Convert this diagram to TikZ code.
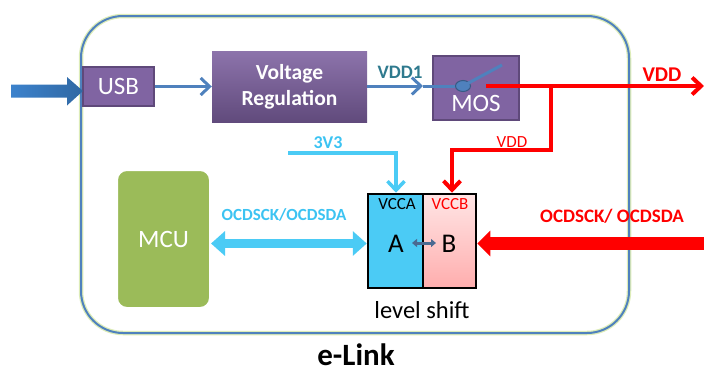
\documentclass[tikz,border=0pt]{standalone}
\usepackage{fontspec}
\setmainfont{Carlito}
\usetikzlibrary{arrows.meta,shapes.geometric}
\definecolor{purp}{HTML}{8064A2}
\definecolor{purpdark}{HTML}{5F497A}
\definecolor{steel}{HTML}{4F81BD}
\definecolor{inblue}{HTML}{3C82CC}
\definecolor{lblue}{HTML}{4BCBF5}
\definecolor{ltext}{HTML}{3CC3F2}
\definecolor{teal}{HTML}{2F7A8E}
\definecolor{mcugreen}{HTML}{9BBB59}
\definecolor{glow}{HTML}{DDECB8}
\definecolor{abarrow}{HTML}{4A6A92}
\tikzset{
  fs/.style={font=\fontsize{#1}{#1}\selectfont},
  purpbox/.style={draw=purpdark, line width=1.2pt, fill=purp, text=white, inner sep=0pt},
  steelline/.style={draw=steel, line width=3pt},
  steelarrow/.style={steelline, -{Straight Barb[length=9pt,width=17pt]}},
  redline/.style={draw=red, line width=4pt},
  redarrow/.style={redline, -{Straight Barb[length=9pt,width=17pt]}},
  bluethin/.style={draw=lblue, line width=3.5pt},
  bluethinarrow/.style={bluethin, -{Straight Barb[length=9pt,width=17pt]}},
  lsbox/.style={draw=black, line width=2.5pt, inner sep=0pt, minimum height=94pt},
}
\begin{document}
\begin{tikzpicture}[x=1pt,y=-1pt]
\useasboundingbox (0,0) rectangle (704,372);
\clip (0,0) rectangle (704,372);
% outer frame
\draw[glow, line width=4.5pt, rounded corners=42pt] (81,16) rectangle (629,333);
\draw[steel, line width=2pt, rounded corners=42pt] (81,16) rectangle (629,333);

% top row
\node[purpbox, minimum width=71pt, minimum height=39pt, fs=25] (usb) at (118.5,86.5) {USB};
\node[draw=none, top color=purp!90!white, bottom color=purpdark!95!purp, text=white, inner sep=0pt,
      minimum width=155pt, minimum height=71pt, align=center, font=\bfseries\fontsize{21.5}{26}\selectfont]
      (vr) at (289.5,86.5) {Voltage\\Regulation};
\node[purpbox, minimum width=86pt, minimum height=64pt] (mos) at (476,88) {};
\node[text=white, fs=25, inner sep=0pt] (mostxt) at (476,103) {MOS};

% input arrow
\shade[left color=inblue, right color=inblue!80!black]
  (11,84.5) -- (67,84.5) -- (67,77) -- (83,91) -- (67,105.5) -- (67,97.5) -- (11,97.5) -- cycle;

\draw[steelarrow] (usb.east) -- (vr.west);

% switch
\coordinate (vddmid) at (423,86);
\node[ellipse, draw=steel!70!black, fill=steel, line width=1pt, minimum width=15pt, minimum height=11pt, inner sep=0pt] (sw) at (463,86) {};
\coordinate (leverend) at (502,65);
\draw[steelline] (sw.center) -- (leverend);
\draw[steelarrow] (vr.east |- vddmid) -- (vddmid);
\draw[steelline] (vddmid) -- (sw.west);
\node[text=teal, font=\bfseries\fontsize{19}{19}\selectfont] (vdd1) at (400,72) {VDD1};

% red VDD
\coordinate (vddstart) at (486,86);
\coordinate (vddend) at (704,86);
\coordinate (branch) at (551,86);
\draw[redarrow] (vddstart) -- (vddend);
\node[text=red, font=\bfseries\fontsize{21}{21}\selectfont] (vddlbl) at (662,75) {VDD};

% level shifter
\node[lsbox, fill=lblue, minimum width=55pt] (lsa) at (395.5,241) {};
\node[lsbox, top color=red!10!white, bottom color=red!32!white, minimum width=53pt] (lsb) at (449.5,241) {};
\node[fs=17, inner sep=0pt] (vcca) at (397,204) {VCCA};
\node[fs=17, text=red, inner sep=0pt] (vccb) at (450,204) {VCCB};
\node[fs=27, inner sep=0pt] (atxt) at (396,244) {A};
\node[fs=27, inner sep=0pt] (btxt) at (449,244) {B};
\coordinate (abl) at (412,243);
\coordinate (abr) at (436,243);
\draw[abarrow, line width=3pt, {Triangle[length=5pt,width=8pt]}-{Triangle[length=5pt,width=8pt]}] (abl) -- (abr);
\node[fs=24.5, inner sep=0pt] (lslbl) at (422,310) {level shift};

% red branch to VCCB
\coordinate (vddtop) at (452,150);
\draw[redarrow, rounded corners=0pt] (branch) -- (branch |- vddtop) -- (vddtop) -- (lsb.north -| vddtop);
\node[text=red, fs=17, inner sep=0pt] (vddsmall) at (512,142) {VDD};

% 3V3
\coordinate (v33start) at (288,153);
\coordinate (v33corner) at (396,153);
\draw[bluethinarrow] (v33start) -- (v33corner) -- (lsa.north -| v33corner);
\node[text=ltext, font=\bfseries\fontsize{18}{18}\selectfont, inner sep=0pt] (v33) at (328,143) {3V3};

% MCU
\node[draw=white, line width=2pt, fill=mcugreen, rounded corners=10pt, minimum width=93pt, minimum height=138pt,
      text=white, fs=25] (mcu) at (163.5,239) {MCU};

% blue bus
\coordinate (busy) at (0,243.5);
\draw[lblue, line width=9pt, {Triangle[length=14pt,width=24pt]}-{Triangle[length=14pt,width=24pt]}]
  (mcu.east |- busy) -- (lsa.west |- busy);
\node[text=ltext, font=\bfseries\fontsize{17}{17}\selectfont, inner sep=0pt] (buslbl) at (284,215) {OCDSCK/OCDSDA};

% red bus
\coordinate (redend) at (726,243.5);
\draw[red, line width=13pt, {Triangle[length=13pt,width=25pt]}-{Triangle[length=22pt,width=25pt]}]
  (lsb.east |- busy) -- (redend);
\node[text=red, font=\bfseries\fontsize{19}{19}\selectfont, inner sep=0pt] (redlbl) at (612,216) {OCDSCK/ OCDSDA};

% title
\node[font=\bfseries\fontsize{31}{31}\selectfont, inner sep=0pt] (title) at (356,355) {e-Link};
\end{tikzpicture}
\end{document}
